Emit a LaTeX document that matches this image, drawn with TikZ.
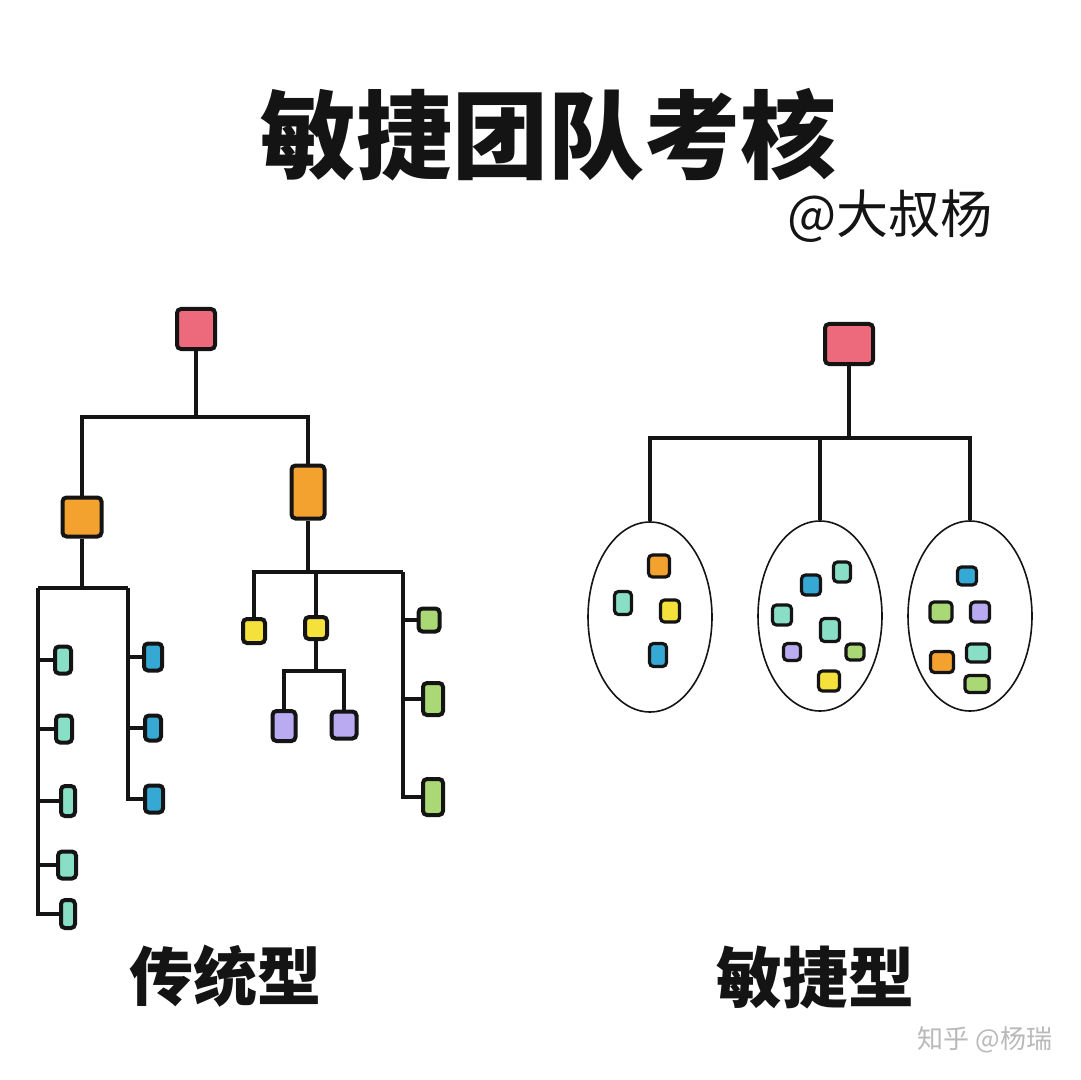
\documentclass[tikz,border=0pt]{standalone}
\usepackage{fontspec}
\usepackage{xcolor}
\usepackage{tikz}
\usetikzlibrary{shapes.geometric, positioning, calc}
\newfontfamily\cjk{Noto Sans CJK SC}
\definecolor{CardRed}{HTML}{EC6A7C}
\definecolor{CardOrange}{HTML}{F3A12F}
\definecolor{CardMint}{HTML}{88DFC6}
\definecolor{CardBlue}{HTML}{35A8D4}
\definecolor{CardYellow}{HTML}{F4E13C}
\definecolor{CardLilac}{HTML}{B9AAF1}
\definecolor{CardGreen}{HTML}{AAD874}
\definecolor{InkBlack}{HTML}{141414}

\begin{document}
\begin{tikzpicture}[x=0.5pt, y=-0.5pt,
  card/.style={rectangle, draw=InkBlack, line width=2pt, rounded corners=2pt, inner sep=0pt},
  boss/.style={card, fill=CardRed, minimum height=20pt},
  lead/.style={card, fill=CardOrange},
  leaf/.style={card, minimum width=8pt, minimum height=13.5pt},
  chip/.style={card, line width=1.6pt, minimum width=9.5pt, minimum height=10pt},
  link/.style={draw=InkBlack, line width=1.8pt},
  team/.style={ellipse, draw=InkBlack, line width=0.8pt, minimum width=62pt, minimum height=95pt},
  hand/.style={font=\cjk\bfseries\fontsize{#1}{#1}\selectfont, text=InkBlack}
]
\fill[white] (0,0) rectangle (1080,1080);
\useasboundingbox (0,0) rectangle (1080,1080);

% Title
\node[hand=48] (title)  at (548,135) {敏捷团队考核};
\node[font=\cjk\fontsize{26}{26}\selectfont, text=InkBlack] (author) at (890,216) {@大叔杨};

% Traditional tree
\node[boss, minimum width=19pt] (rootA) at (196,329) {};
\node[lead, minimum width=19.5pt, minimum height=19.5pt] (leadA) at (82,517) {};
\node[lead, minimum width=16.5pt, minimum height=26.5pt] (leadB) at (308,492) {};
\coordinate (busA) at (196,417);
\draw[link] (rootA) -- (busA);
\draw[link] (leadA) |- (busA) -| (leadB);

\node[leaf, fill=CardMint] (m1) at (63,660) {};
\node[leaf, fill=CardMint] (m2) at (64,729) {};
\node[leaf, fill=CardMint, minimum width=7pt, minimum height=15pt] (m3) at (68,801) {};
\node[leaf, fill=CardMint, minimum width=9pt] (m4) at (67,865) {};
\node[leaf, fill=CardMint, minimum width=7pt, minimum height=14pt] (m5) at (68,914) {};
\node[leaf, fill=CardBlue, minimum width=9pt] (b1) at (153,657) {};
\node[leaf, fill=CardBlue, minimum height=12.5pt] (b2) at (153,728) {};
\node[leaf, fill=CardBlue, minimum width=9pt] (b3) at (154,799) {};

\coordinate (colA) at (38,588);
\coordinate (colB) at (128,588);
\draw[link] (leadA) -- (leadA |- colA);
\draw[link] (colA) -- (colB);
\draw[link] (colA) |- (m5);
\draw[link] (m1) -- (m1 -| colA);
\draw[link] (m2) -- (m2 -| colA);
\draw[link] (m3) -- (m3 -| colA);
\draw[link] (m4) -- (m4 -| colA);
\draw[link] (colB) |- (b3);
\draw[link] (b1) -- (b1 -| colB);
\draw[link] (b2) -- (b2 -| colB);

\node[leaf, fill=CardYellow, minimum width=11pt, minimum height=12pt] (y1) at (254,631) {};
\node[leaf, fill=CardYellow, minimum width=11pt, minimum height=11pt] (y2) at (316,628) {};
\node[leaf, fill=CardLilac, minimum width=11.5pt, minimum height=15pt] (p1) at (284,726) {};
\node[leaf, fill=CardLilac, minimum width=12.5pt, minimum height=13.5pt] (p2) at (344,725) {};
\node[leaf, fill=CardGreen, minimum width=10.5pt, minimum height=11.5pt] (g1) at (429,620) {};
\node[leaf, fill=CardGreen, minimum width=10pt, minimum height=16pt] (g2) at (433,699) {};
\node[leaf, fill=CardGreen, minimum width=10pt, minimum height=18pt] (g3) at (433,797) {};

\coordinate (colC) at (252,572);
\coordinate (colD) at (403,572);
\coordinate (busC) at (316,671);
\draw[link] (leadB) -- (leadB |- colC);
\draw[link] (colC) -- (colD);
\draw[link] (y1) -- (y1 |- colC);
\draw[link] (y2) -- (y2 |- colC);
\draw[link] (y2) -- (busC);
\draw[link] (p1) |- (busC) -| (p2);
\draw[link] (colD) |- (g3);
\draw[link] (g1) -- (g1 -| colD);
\draw[link] (g2) -- (g2 -| colD);

% Agile tree
\node[boss, minimum width=24pt] (rootB) at (849,344) {};
\coordinate (busB) at (849,438);
\node[team] (teamA) at (650,617) {};
\node[team] (teamB) at (820,616) {};
\node[team] (teamC) at (970,616) {};
\draw[link] (rootB) -- (busB);
\draw[link] (teamA) |- (busB) -| (teamC);
\draw[link] (teamB) -- (teamB |- busB);

\node[chip, fill=CardOrange, minimum width=10.5pt, minimum height=11pt] (a1) at (659,566) {};
\node[chip, fill=CardMint, minimum width=8.5pt, minimum height=11.5pt] (a2) at (623,603) {};
\node[chip, fill=CardYellow, minimum height=11pt] (a3) at (670,611) {};
\node[chip, fill=CardBlue, minimum width=8.5pt, minimum height=11.5pt] (a4) at (658,655) {};

\node[chip, fill=CardMint, minimum width=8.5pt] (c1) at (842,572) {};
\node[chip, fill=CardBlue] (c2) at (811,585) {};
\node[chip, fill=CardMint] (c3) at (782,615) {};
\node[chip, fill=CardMint, minimum height=11.5pt] (c4) at (830,630) {};
\node[chip, fill=CardLilac, minimum width=8.5pt, minimum height=8.5pt] (c5) at (792,652) {};
\node[chip, fill=CardGreen, minimum width=9pt, minimum height=8pt] (c6) at (855,652) {};
\node[chip, fill=CardYellow, minimum width=10.5pt] (c7) at (829,681) {};

\node[chip, fill=CardBlue, minimum height=9pt] (d1) at (967,576) {};
\node[chip, fill=CardGreen, minimum width=11pt] (d2) at (941,612) {};
\node[chip, fill=CardLilac] (d3) at (980,612) {};
\node[chip, fill=CardOrange, minimum width=11.5pt, minimum height=10.5pt] (d4) at (942,662) {};
\node[chip, fill=CardMint, minimum width=11.5pt, minimum height=9pt] (d5) at (978,653) {};
\node[chip, fill=CardGreen, minimum width=12pt, minimum height=8.5pt] (d6) at (977,684) {};

% Labels
\node[hand=32] (labA) at (225,976) {传统型};
\node[hand=33] (labB) at (815,978) {敏捷型};
\node[font=\cjk\fontsize{13}{13}\selectfont, text=gray!55] (mark) at (985,1040) {知乎 @杨瑞};

\end{tikzpicture}
\end{document}
